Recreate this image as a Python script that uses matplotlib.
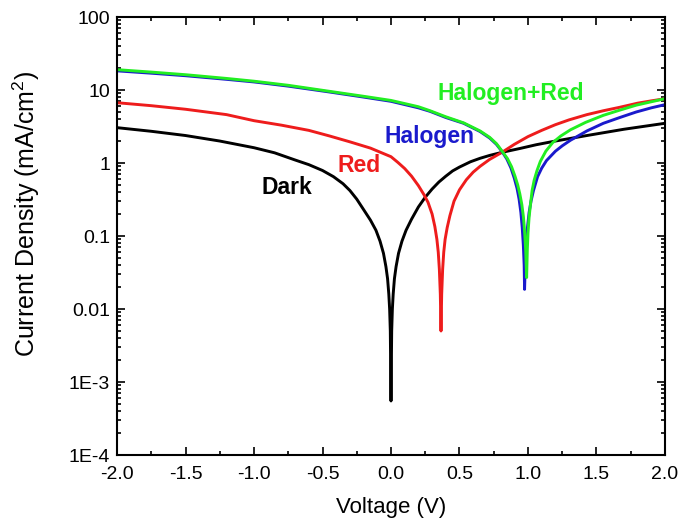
import matplotlib
matplotlib.use('Agg')
import matplotlib.pyplot as plt
from matplotlib.ticker import FixedLocator, LogLocator, NullFormatter, MultipleLocator

plt.rcParams['font.family'] = 'Liberation Sans'
plt.rcParams['mathtext.fontset'] = 'custom'
plt.rcParams['mathtext.rm'] = 'Liberation Sans'
plt.rcParams['mathtext.default'] = 'regular'

# J-V curves, |J| in mA/cm^2
dark_v = [-2.0, -1.75, -1.5, -1.25, -1.0, -0.85, -0.7, -0.6, -0.5, -0.42, -0.35, -0.3,
          -0.25, -0.2, -0.15, -0.11, -0.08, -0.055, -0.037, -0.025, -0.016, -0.01,
          -0.005, 0.0, 0.005, 0.01, 0.016, 0.025, 0.037, 0.055, 0.08, 0.11, 0.15, 0.2,
          0.25, 0.3, 0.35, 0.4, 0.45, 0.5, 0.58, 0.65, 0.72, 0.81, 0.94, 1.06, 1.2,
          1.43, 1.7, 2.0]
dark_j = [3.05, 2.72, 2.38, 2.0, 1.62, 1.38, 1.1, 0.95, 0.79, 0.65, 0.52, 0.42,
          0.32, 0.23, 0.165, 0.12, 0.085, 0.058, 0.038, 0.026, 0.016, 0.01,
          0.005, 0.00055, 0.005, 0.01, 0.016, 0.026, 0.038, 0.058, 0.085, 0.12, 0.17, 0.25,
          0.34, 0.44, 0.55, 0.66, 0.78, 0.88, 1.04, 1.16, 1.27, 1.40, 1.58, 1.78, 2.0,
          2.38, 2.9, 3.5]

red_v = [-2.0, -1.75, -1.5, -1.2, -1.0, -0.8, -0.6, -0.45, -0.3, -0.15, 0.0, 0.05,
         0.1, 0.15, 0.2, 0.24, 0.27, 0.3, 0.32, 0.335, 0.345, 0.353, 0.36, 0.365,
         0.37, 0.377, 0.385, 0.395, 0.41, 0.43, 0.46, 0.5, 0.55, 0.6, 0.65, 0.72,
         0.81, 0.9, 1.0, 1.1, 1.2, 1.3, 1.43, 1.55, 1.67, 1.8, 1.9, 2.0]
red_j = [6.7, 6.1, 5.45, 4.6, 3.8, 3.3, 2.8, 2.35, 1.95, 1.6, 1.22, 1.02,
         0.84, 0.66, 0.49, 0.37, 0.29, 0.2, 0.135, 0.09, 0.06, 0.035, 0.016, 0.005,
         0.016, 0.035, 0.06, 0.09, 0.13, 0.19, 0.30, 0.43, 0.59, 0.75, 0.9, 1.12,
         1.40, 1.8, 2.3, 2.8, 3.35, 3.9, 4.6, 5.2, 5.8, 6.6, 7.1, 7.6]

halogen_v = [-2.0, -1.75, -1.5, -1.2, -1.0, -0.75, -0.45, -0.2, 0.0, 0.2, 0.285, 0.4,
             0.53, 0.65, 0.72, 0.77, 0.81, 0.845, 0.875, 0.9, 0.92, 0.935, 0.948,
             0.958, 0.966, 0.972, 0.975, 0.98, 0.987, 0.996, 1.008, 1.022, 1.04, 1.07,
             1.1, 1.135, 1.2, 1.25, 1.31, 1.43, 1.55, 1.67, 1.79, 1.9, 2.0]
halogen_j = [18.3, 17.0, 15.7, 14.0, 12.9, 11.3, 9.4, 8.0, 7.0, 5.7, 5.1, 4.2,
             3.5, 2.7, 2.2, 1.8, 1.44, 1.14, 0.86, 0.62, 0.45, 0.32, 0.21,
             0.13, 0.075, 0.04, 0.0186, 0.04, 0.075, 0.13, 0.21, 0.3, 0.42, 0.65,
             0.85, 1.08, 1.45, 1.72, 2.05, 2.75, 3.5, 4.2, 5.0, 5.7, 6.3]

both_v = [-2.0, -1.75, -1.5, -1.2, -1.0, -0.75, -0.45, -0.2, 0.0, 0.2, 0.285, 0.4,
          0.53, 0.65, 0.72, 0.77, 0.81, 0.85, 0.88, 0.905, 0.925, 0.94, 0.955, 0.967,
          0.976, 0.983, 0.99, 0.995, 1.0, 1.008, 1.018, 1.03, 1.045, 1.065, 1.09,
          1.13, 1.18, 1.24, 1.31, 1.42, 1.55, 1.67, 1.79, 1.9, 2.0]
both_j = [19.0, 17.6, 16.2, 14.4, 13.2, 11.6, 9.6, 8.2, 7.2, 5.9, 5.2, 4.3,
          3.55, 2.75, 2.25, 1.84, 1.46, 1.15, 0.89, 0.66, 0.5, 0.38, 0.27, 0.18,
          0.11, 0.065, 0.027, 0.065, 0.11, 0.18, 0.27, 0.42, 0.58, 0.78, 1.05,
          1.45, 1.9, 2.35, 2.85, 3.6, 4.5, 5.3, 6.2, 6.9, 7.6]

x_ticks = [-2.0, -1.5, -1.0, -0.5, 0.0, 0.5, 1.0, 1.5, 2.0]
y_ticks = [1e-4, 1e-3, 1e-2, 1e-1, 1, 10, 100]
y_ticklabels = ['1E-4', '1E-3', '0.01', '0.1', '1', '10', '100']

BLACK = '#000000'
RED = '#ee1c1c'
BLUE = '#1a1acc'
GREEN = '#22ee22'

fig = plt.figure(figsize=(6.94, 5.25), dpi=100)
ax = fig.add_axes([0.1686, 0.1333, 0.7896, 0.8343])

lw = 2.1
ax.plot(dark_v, dark_j, color=BLACK, lw=lw)
ax.plot(red_v, red_j, color=RED, lw=lw)
ax.plot(halogen_v, halogen_j, color=BLUE, lw=lw)
ax.plot(both_v, both_j, color=GREEN, lw=lw)

ax.set_yscale('log')
ax.set_xlim(-2.0, 2.0)
ax.set_ylim(1e-4, 100)

ax.set_xticks(x_ticks)
ax.set_xticklabels([f'{v:.1f}' for v in x_ticks])
ax.xaxis.set_minor_locator(MultipleLocator(0.25))

ax.yaxis.set_major_locator(FixedLocator(y_ticks))
ax.set_yticklabels(y_ticklabels)
ax.yaxis.set_minor_locator(LogLocator(base=10, subs=range(2, 10), numticks=20))
ax.yaxis.set_minor_formatter(NullFormatter())

ax.tick_params(which='both', direction='in', top=True, right=True, width=1.2)
ax.tick_params(which='major', length=6, labelsize=14, pad=5)
ax.tick_params(axis='x', which='major', pad=8)
ax.tick_params(which='minor', length=3)
for s in ax.spines.values():
    s.set_linewidth(1.5)

ax.set_xlabel('Voltage (V)', fontsize=16, labelpad=10)
ax.set_ylabel('Current Density (mA/cm$^2$)', fontsize=18)
ax.yaxis.set_label_coords(-0.137, 0.55)

lab = dict(fontsize=16.5, fontweight='bold', ha='center', va='baseline')
ax.text(-0.759, 0.376, 'Dark', color=BLACK, **lab)
ax.text(-0.234, 0.745, 'Red', color=RED, **lab)
ax.text(0.28, 1.87, 'Halogen', color=BLUE, **lab)
ax.text(0.872, 7.38, 'Halogen+Red', color=GREEN, **lab)

fig.savefig('out.png', dpi=100)
